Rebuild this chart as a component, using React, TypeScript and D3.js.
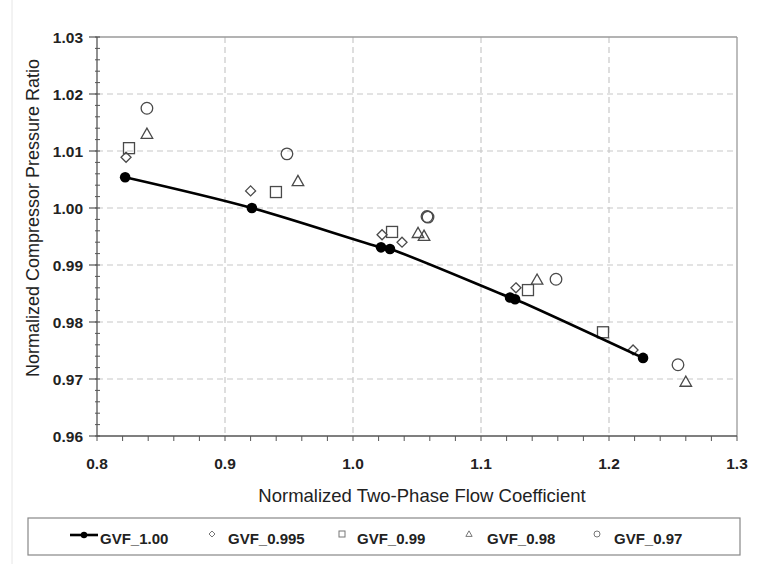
import React from "react";
import * as d3 from "d3";

// GVF = 1.00 (filled circles, joined by the curve)
const gvf100X = [0.822, 0.921, 1.0219, 1.0289, 1.1227, 1.1266, 1.2266];
const gvf100Y = [1.0054, 1.0, 0.9931, 0.9928, 0.9843, 0.984, 0.9737];
// GVF = 0.995 (diamonds)
const gvf0995X = [0.8227, 0.92, 1.0227, 1.0383, 1.1273, 1.2188];
const gvf0995Y = [1.0089, 1.003, 0.9953, 0.994, 0.986, 0.9751];
// GVF = 0.99 (squares)
const gvf099X = [0.825, 0.9398, 1.0305, 1.1367, 1.1953];
const gvf099Y = [1.0105, 1.0028, 0.9958, 0.9856, 0.9782];
// GVF = 0.98 (triangles)
const gvf098X = [0.839, 0.957, 1.0508, 1.0555, 1.1438, 1.26];
const gvf098Y = [1.013, 1.0047, 0.9956, 0.9951, 0.9874, 0.9695];
// GVF = 0.97 (open circles)
const gvf097X = [0.839, 0.9484, 1.0578, 1.0586, 1.1586, 1.2539];
const gvf097Y = [1.0175, 1.0095, 0.9985, 0.9984, 0.9875, 0.9725];

const xTicks = [0.8, 0.9, 1.0, 1.1, 1.2, 1.3];
const yTicks = [0.96, 0.97, 0.98, 0.99, 1.0, 1.01, 1.02, 1.03];
const legendLabels = ["GVF_1.00", "GVF_0.995", "GVF_0.99", "GVF_0.98", "GVF_0.97"];

const xTitle = "Normalized Two-Phase Flow Coefficient";
const yTitle = "Normalized Compressor Pressure Ratio";

const W = 764;
const H = 564;
const left = 97;
const right = 737;
const top = 37;
const bottom = 436;
const FONT = "'Liberation Sans', Arial, Helvetica, sans-serif";
const MARK = "#4a4a4a";

type Shape = "dot" | "diamond" | "square" | "triangle" | "circle";

function Marker({ shape, cx, cy, s, stroke, sw }: { shape: Shape; cx: number; cy: number; s: number; stroke: string; sw: number }) {
  if (shape === "dot") return <circle cx={cx} cy={cy} r={s} fill="#000" />;
  if (shape === "circle") return <circle cx={cx} cy={cy} r={s} fill="none" stroke={stroke} strokeWidth={sw} />;
  if (shape === "square")
    return <rect x={cx - s} y={cy - s} width={2 * s} height={2 * s} fill="none" stroke={stroke} strokeWidth={sw} />;
  if (shape === "diamond")
    return (
      <path
        d={`M${cx},${cy - s}L${cx + s},${cy}L${cx},${cy + s}L${cx - s},${cy}Z`}
        fill="none"
        stroke={stroke}
        strokeWidth={sw}
      />
    );
  return (
    <path
      d={`M${cx},${cy - s * 1.05}L${cx + s * 1.05},${cy + s * 0.8}L${cx - s * 1.05},${cy + s * 0.8}Z`}
      fill="none"
      stroke={stroke}
      strokeWidth={sw}
    />
  );
}

export default function App() {
  const x = d3.scaleLinear().domain([0.8, 1.3]).range([left, right]);
  const y = d3.scaleLinear().domain([0.96, 1.03]).range([bottom, top]);

  const xMinor = d3.range(0.8, 1.3001, 0.02);
  const yMinor = d3.range(0.96, 1.0301, 0.002);

  const line = d3
    .line<[number, number]>()
    .x((d) => x(d[0]))
    .y((d) => y(d[1]))
    .curve(d3.curveCatmullRom.alpha(0.5));
  const curvePts = gvf100X.map((v, i) => [v, gvf100Y[i]] as [number, number]);

  const series: { xs: number[]; ys: number[]; shape: Shape; s: number }[] = [
    { xs: gvf0995X, ys: gvf0995Y, shape: "diamond", s: 5 },
    { xs: gvf099X, ys: gvf099Y, shape: "square", s: 5.5 },
    { xs: gvf098X, ys: gvf098Y, shape: "triangle", s: 5.5 },
    { xs: gvf097X, ys: gvf097Y, shape: "circle", s: 5.8 },
  ];

  const legendShapes: Shape[] = ["dot", "diamond", "square", "triangle", "circle"];
  const legendMarkX = [84, 212, 342, 469, 597];
  const legendTextX = [100, 228, 357, 487, 614];
  const legendY = 538;

  return (
    <svg width={W} height={H} style={{ position: "absolute", left: 0, top: 0, background: "#fff" }} fontFamily={FONT}>
      <line x1={12} x2={12} y1={0} y2={H} stroke="#e6e6e6" strokeWidth={1} />

      {/* grid */}
      {xTicks.slice(1, -1).map((t) => (
        <line key={"gx" + t} x1={x(t)} x2={x(t)} y1={top} y2={bottom} stroke="#c8c8c8" strokeWidth={1.2} strokeDasharray="6,4" />
      ))}
      {yTicks.slice(1, -1).map((t) => (
        <line key={"gy" + t} x1={left} x2={right} y1={y(t)} y2={y(t)} stroke="#c8c8c8" strokeWidth={1.2} strokeDasharray="6,4" />
      ))}

      {/* frame */}
      <line x1={left} x2={right} y1={top} y2={top} stroke="#9a9a9a" strokeWidth={1.3} />
      <line x1={right} x2={right} y1={top} y2={bottom} stroke="#9a9a9a" strokeWidth={1.3} />
      <line x1={left} x2={left} y1={top} y2={bottom} stroke="#555" strokeWidth={1.3} />
      <line x1={left} x2={right} y1={bottom} y2={bottom} stroke="#555" strokeWidth={1.3} />

      {/* ticks */}
      {xMinor.map((t, i) => (
        <line key={"xm" + i} x1={x(t)} x2={x(t)} y1={bottom} y2={bottom + 5} stroke="#555" strokeWidth={1} />
      ))}
      {yMinor.map((t, i) => (
        <line key={"ym" + i} x1={left - 2} x2={left + 3} y1={y(t)} y2={y(t)} stroke="#555" strokeWidth={1} />
      ))}
      {yTicks.map((t) => (
        <line key={"yM" + t} x1={left - 8} x2={left} y1={y(t)} y2={y(t)} stroke="#555" strokeWidth={1.2} />
      ))}

      {/* tick labels */}
      {xTicks.map((t) => (
        <text key={"xl" + t} x={x(t)} y={469} textAnchor="middle" fontSize={15.5} fontWeight="bold" fill="#222">
          {d3.format(".1f")(t)}
        </text>
      ))}
      {yTicks.map((t) => (
        <text key={"yl" + t} x={83} y={y(t) + 5.5} textAnchor="end" fontSize={15.5} fontWeight="bold" fill="#222">
          {d3.format(".2f")(t)}
        </text>
      ))}

      {/* axis titles */}
      <text x={422} y={502} textAnchor="middle" fontSize={18.5} fill="#222">
        {xTitle}
      </text>
      <text transform={`translate(39,218) rotate(-90)`} textAnchor="middle" fontSize={18} fill="#222">
        {yTitle}
      </text>

      {/* open-marker series */}
      {series.map((sr, si) =>
        sr.xs.map((v, i) => (
          <Marker key={si + "-" + i} shape={sr.shape} cx={x(v)} cy={y(sr.ys[i])} s={sr.s} stroke={MARK} sw={1.3} />
        ))
      )}

      {/* GVF 1.00 curve and points */}
      <path d={line(curvePts) || ""} fill="none" stroke="#000" strokeWidth={2.6} />
      {gvf100X.map((v, i) => (
        <circle key={"p" + i} cx={x(v)} cy={y(gvf100Y[i])} r={5.3} fill="#000" />
      ))}

      {/* legend */}
      <rect x={28} y={518} width={712} height={37} fill="#fff" stroke="#888" strokeWidth={1.2} />
      <line x1={70} x2={98} y1={legendY - 3} y2={legendY - 3} stroke="#000" strokeWidth={2.6} />
      {legendShapes.map((sh, i) =>
        sh === "dot" ? (
          <circle key={"lm" + i} cx={legendMarkX[i]} cy={legendY - 3} r={3.2} fill="#000" />
        ) : (
          <Marker key={"lm" + i} shape={sh} cx={legendMarkX[i]} cy={legendY - 4} s={3} stroke="#777" sw={1} />
        )
      )}
      {legendLabels.map((l, i) => (
        <text key={"lt" + i} x={legendTextX[i]} y={legendY + 5.5} fontSize={15} fontWeight="bold" fill="#222">
          {l}
        </text>
      ))}
    </svg>
  );
}
